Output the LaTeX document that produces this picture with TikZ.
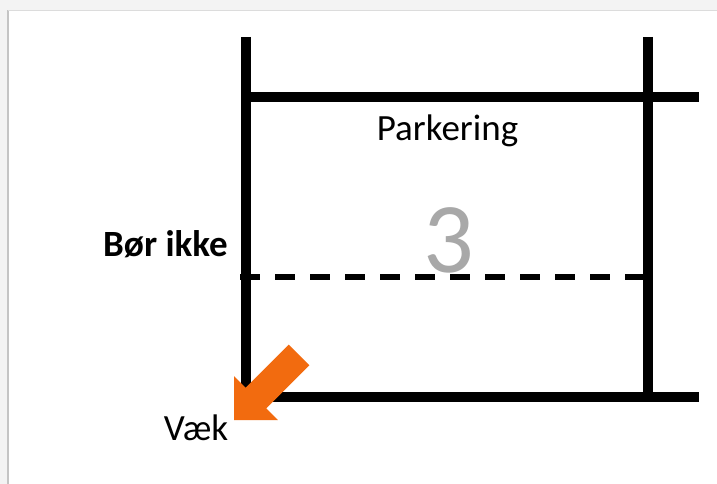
\documentclass[tikz,border=0pt]{standalone}
\usepackage{fontspec}
\setmainfont{Carlito}
\definecolor{arroworange}{HTML}{F26B0F}
\definecolor{numgrey}{HTML}{A8A8A8}
\definecolor{cardedge}{HTML}{C4C4C4}
\definecolor{shadowgrey}{HTML}{F3F3F3}
\begin{document}
\begin{tikzpicture}[x=1pt,y=-1pt,
  wall/.style={line width=10pt,black},
  midline/.style={line width=6pt,black,dash pattern=on 20pt off 15pt},
  lbl/.style={font=\fontsize{37}{40}\selectfont,anchor=base,inner sep=0pt}]
  % page and card
  \useasboundingbox (0,0) rectangle (717,484);
  \fill[shadowgrey] (0,0) rectangle (717,484);
  \fill[white] (8,10) rectangle (717,484);
  \draw[cardedge,line width=1.5pt] (8,484) -- (8,10);
  \draw[shadowgrey!80!gray,line width=0.6pt] (8,10) -- (717,10);
  % parking bay
  \coordinate (tl) at (246,37);
  \coordinate (tr) at (648,37);
  \coordinate (lt) at (241,97);
  \coordinate (rt) at (699,97);
  \coordinate (bl) at (246,397);
  \coordinate (br) at (699,397);
  \coordinate (rb) at (648,401);
  \coordinate (dl) at (240,277);
  \coordinate (dr) at (645,277);
  \draw[wall] (tl) -- (bl) -- (br);
  \draw[wall] (tr) -- (rb);
  \draw[wall] (lt) -- (rt);
  \draw[midline] (dl) -- (dr);
  % labels
  \node[lbl] (park) at (447.5,140) {Parkering};
  \node[lbl,text=numgrey,font=\fontsize{100}{110}\selectfont] (num) at (449,272) {3};
  \node[lbl,anchor=base east,font=\fontsize{37}{40}\selectfont\bfseries] (bor) at (228,256) {Bør ikke};
  \node[lbl] (vaek) at (196,440) {Væk};
  % exit arrow
  \fill[arroworange] (234,420) -- (277.8,420) -- (266.2,408.4) -- (309.3,365.3)
    -- (288.7,344.7) -- (245.6,387.8) -- (234,376) -- cycle;
\end{tikzpicture}
\end{document}
